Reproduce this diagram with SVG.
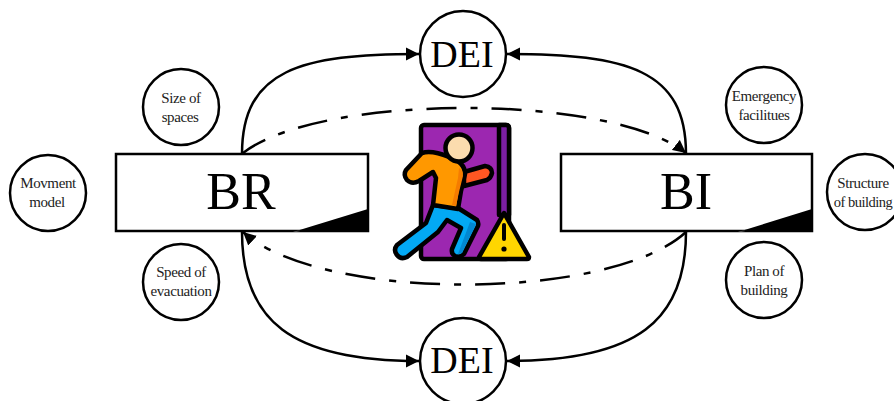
<svg xmlns="http://www.w3.org/2000/svg" width="894" height="401" viewBox="0 0 894 401">
<defs>
<marker id="ah" markerUnits="userSpaceOnUse" markerWidth="14" markerHeight="14" refX="13" refY="7" orient="auto"><path d="M0 0.5 L13 7 L0 13.5 Z" fill="#000"/></marker>
<linearGradient id="w" x1="0" x2="1" y1="0" y2="0"><stop offset="0" stop-color="#888"/><stop offset="0.1" stop-color="#000"/></linearGradient>
</defs>
<style>
.c{fill:#fff;stroke:#000;stroke-width:2.5}
.b{fill:#fff;stroke:#000;stroke-width:2.5}
.s{font:15px "Liberation Serif",serif;letter-spacing:-.4px;fill:#222;text-anchor:middle}
.n{font-size:14.5px;letter-spacing:-.5px}
.l{font:52px "Liberation Serif",serif;fill:#000;text-anchor:middle}
.d{font:38px "Liberation Serif",serif;fill:#000;text-anchor:middle}
.k{fill:none;stroke:#000;stroke-width:2.5}
.dd{fill:none;stroke:#000;stroke-width:2.5;stroke-dasharray:30 14 7 14;stroke-dashoffset:4}
.i{stroke:#000;stroke-width:4.5;stroke-linejoin:round;stroke-linecap:round}
</style>
<rect width="894" height="401" fill="#fff"/>
<g id="connectors">
<path class="k" marker-end="url(#ah)" d="M242 154 C242 70 300 54 419 54"/>
<path class="k" marker-end="url(#ah)" d="M686 154 C686 70 628 54 507 54"/>
<path class="k" marker-end="url(#ah)" d="M242 232 C242 320 290 361 419 361"/>
<path class="k" marker-end="url(#ah)" d="M686 232 C686 320 638 361 507 361"/>
<path class="dd" marker-end="url(#ah)" d="M243 153 C320 93 610 93 686 153"/>
<path class="dd" marker-end="url(#ah)" d="M686 232 C610 302 320 302 243 232"/>
</g>
<g id="dei-top"><circle class="c" cx="463" cy="54" r="43"/><text class="d" x="462" y="67">DEI</text></g>
<g id="dei-bottom"><circle class="c" cx="463" cy="361" r="43"/><text class="d" x="462" y="373">DEI</text></g>
<g id="br"><rect class="b" x="116" y="154" width="252" height="77"/><path d="M293 232 L368 209 L368 232 Z" fill="url(#w)"/><text class="l" x="241" y="209">BR</text></g>
<g id="bi"><rect class="b" x="561" y="154" width="251" height="77"/><path d="M738 232 L812 209 L812 232 Z" fill="url(#w)"/><text class="l" x="686" y="209">BI</text></g>
<g id="size"><circle class="c" cx="181" cy="107" r="38"/><text class="s" x="181" y="103">Size of</text><text class="s" x="180" y="122">spaces</text></g>
<g id="speed"><circle class="c" cx="181" cy="282" r="38"/><text class="s" x="181" y="277">Speed of</text><text class="s" x="181" y="296">evacuation</text></g>
<g id="move"><circle class="c" cx="48" cy="193" r="38"/><text class="s" x="48" y="188">Movment</text><text class="s" x="47" y="207">model</text></g>
<g id="emerg"><circle class="c" cx="764" cy="105" r="38"/><text class="s" x="764" y="101">Emergency</text><text class="s" x="764" y="120">facilitues</text></g>
<g id="plan"><circle class="c" cx="764" cy="280" r="38"/><text class="s" x="764" y="276">Plan of</text><text class="s" x="764" y="295">building</text></g>
<g id="struct"><circle class="c" cx="865" cy="192" r="38"/><text class="s" x="863" y="188">Structure</text><text class="s n" x="863" y="207">of building</text></g>
<g id="exit-icon">
<rect class="i" x="421" y="125" width="88" height="134" rx="3" fill="#9c27b0"/>
<path class="i" d="M499 125 H506 Q509 125 509 128 V215 H499 Z" fill="#7b1fa2"/>
<path class="i" d="M464 172 L485 166 Q492 167 492 173 Q491 178 487 180 L464 186 Z" fill="#ff5722"/>
<path class="i" d="M433 205 L458 208 L477 220 Q479 223 478 226 L464 254 Q460 258 455 256 Q451 254 452 249 L461 228 L447 220 L438 232 L407 257 Q401 260 397 255 Q393 250 397 245 L426 223 Z" fill="#03a9f4"/>
<path d="M470 222 L476 224 L462 253 L458 254 Z" fill="#0288d1"/>
<path class="i" d="M422 153 Q432 150 449 157 Q465 162 465 174 L461 191 L458 209 L433 205 L436 178 L433 172 L419 181 Q412 185 407 180 Q403 175 406 170 Z" fill="#ff9800"/>
<path d="M459 168 Q463 170 463 176 L459 192 L456 206 L452 205 L458 178 Z" fill="#f57c00"/>
<circle class="i" cx="459" cy="148" r="13.5" fill="#fbdcae"/>
<path class="i" d="M504 213 L529 257 Q529 259 527 259 H481 Q479 259 479 257 Z" fill="#ffd600"/>
<path d="M504 225 V239" stroke="#000" stroke-width="4" stroke-linecap="round"/>
<circle cx="504" cy="249" r="2.6"/>
</g>
</svg>
